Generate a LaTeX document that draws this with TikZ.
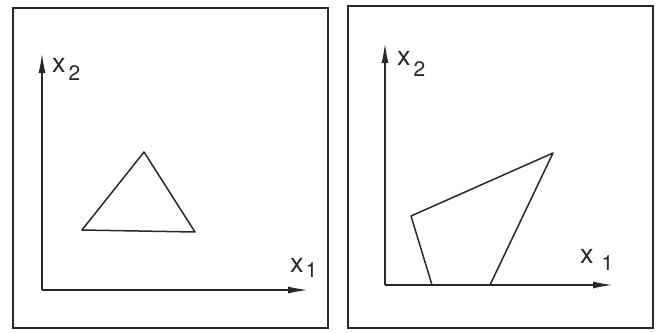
\documentclass[tikz,border=0pt]{standalone}
\usepackage{fontspec}
\setmainfont{TeX Gyre Heros}
\usetikzlibrary{arrows.meta}
\definecolor{inkgray}{RGB}{40, 40, 40}
% axis name with a dropped index: {index}{drop}{gap}
\newcommand{\axname}[3]{x\hspace{#3}\raisebox{-#2}{\fontsize{21}{21}\selectfont #1}}

\begin{document}
\begin{tikzpicture}[x=1pt, y=-1pt,
    frame/.style={draw=inkgray, line width=1.8pt},
    axis/.style={draw=inkgray, line width=1.6pt,
                 -{Latex[length=20pt, width=7pt]}},
    region/.style={draw=inkgray, line width=1.5pt, line join=round},
    axlabel/.style={inner sep=0pt, anchor=base west, text=inkgray,
                    font=\fontsize{27}{27}\selectfont}]
  \useasboundingbox (0,0) rectangle (661,332);
  %--- left panel: triangle --------------------------------------------------
  \begin{scope}
    \draw[frame] (13,8) rectangle (328,328);
    \coordinate (oL) at (42,290);
    \coordinate (xL) at (308,290);
    \coordinate (yL) at (42,53);
    \draw[axis] (oL) -- (xL);
    \draw[axis] (oL) -- (yL);
    \node[axlabel] (x2L) at (52,72) {\axname{2}{8pt}{3pt}};
    \node[axlabel] (x1L) at (290,272) {\axname{1}{5pt}{2pt}};
    % the triangle
    \coordinate (tA) at (82,230);
    \coordinate (tB) at (144,152);
    \coordinate (tC) at (195,232);
    \draw[region] (tA) -- (tB) -- (tC) -- cycle;
  \end{scope}
  %--- right panel: quadrilateral on the x1 axis -----------------------------
  \begin{scope}
    \draw[frame] (348,6) rectangle (653,328);
    \coordinate (oR) at (385,285);
    \coordinate (xR) at (613,285);
    \coordinate (yR) at (385,43);
    \draw[axis] (oR) -- (xR);
    \draw[axis] (oR) -- (yR);
    \node[axlabel] (x2R) at (397,65) {\axname{2}{11pt}{3pt}};
    \node[axlabel] (x1R) at (580,263) {\axname{1}{7pt}{8pt}};
    % the quadrilateral
    \coordinate (qA) at (432,285);
    \coordinate (qB) at (411,216);
    \coordinate (qC) at (553,153);
    \coordinate (qD) at (490,285);
    \draw[region] (qA) -- (qB) -- (qC) -- (qD);
  \end{scope}
\end{tikzpicture}
\end{document}
